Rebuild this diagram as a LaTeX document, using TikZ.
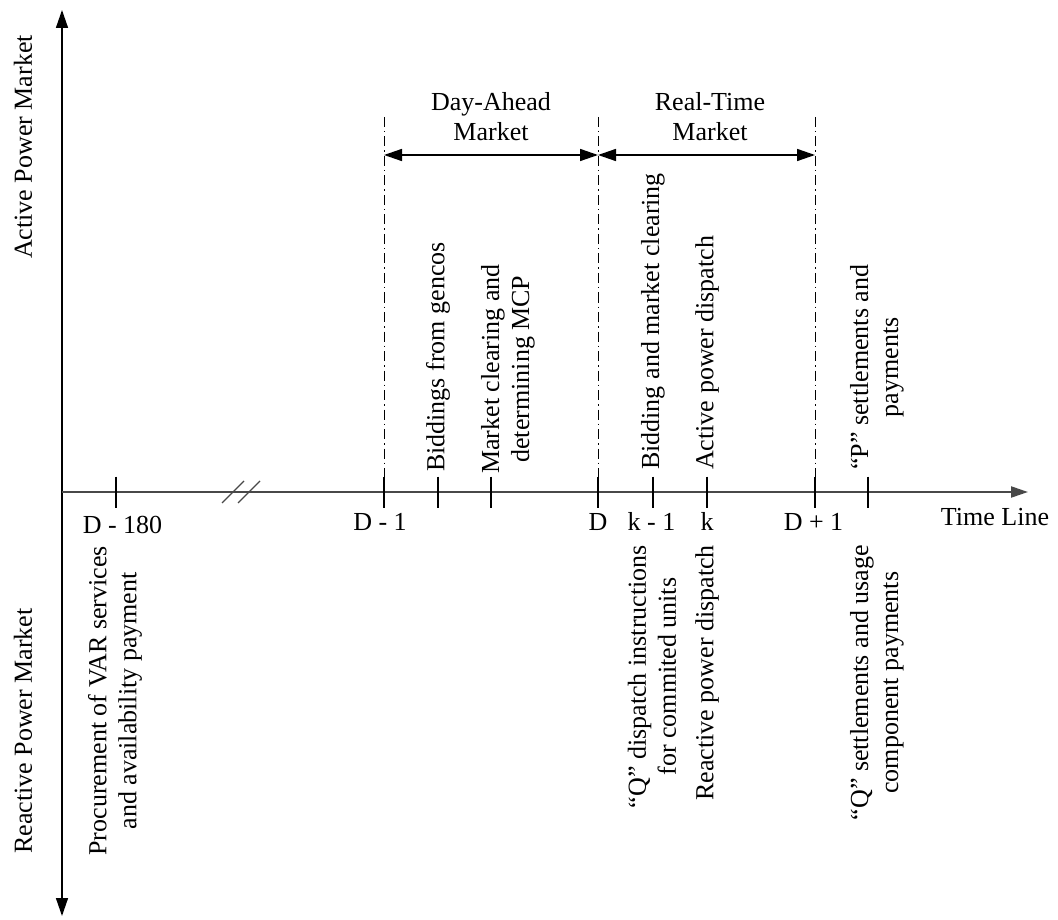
\documentclass[tikz,border=0pt]{standalone}
\usepackage{fontspec}
\setmainfont{Liberation Serif}
\definecolor{axisgray}{RGB}{72,72,72}
\definecolor{ink}{RGB}{0,0,0}
\usetikzlibrary{arrows.meta,positioning}
\tikzset{
  lbl/.style={font=\fontsize{26}{30}\selectfont,text=ink,inner sep=0pt},
  uptext/.style={lbl,rotate=90,anchor=west,align=center},
  downtext/.style={lbl,rotate=90,anchor=east,align=center},
  tickmark/.style={ink,line width=1.2pt},
  phase/.style={ink,line width=1pt,dash pattern=on 10pt off 4pt on 1.5pt off 4pt},
  bigtip/.tip={Triangle[length=18pt,width=12pt]}
}

\begin{document}
\begin{tikzpicture}[x=1pt,y=-1pt]
  \useasboundingbox (0,0) rectangle (1058,920);
  % market axis and time line
  \coordinate (vtop) at (62,10);
  \coordinate (vbot) at (62,916);
  \coordinate (hstart) at (62,492);
  \coordinate (hend) at (1028,492);
  \draw[ink,line width=1.5pt,bigtip-bigtip] (vbot) -- (vtop);
  \draw[axisgray,line width=2.2pt,-{Triangle[length=17pt,width=11pt]}] (hstart) -- (hend);
  \draw[axisgray,line width=1.3pt] (222,503) -- (244,481) (238,503) -- (260,481);
  % ticks
  \foreach \n/\x in {d180/116,dm1/384,bid/438,clr/491,d/598,km1/653,k/707,dp1/815,set/868}{
    \coordinate (\n) at (\x,492);
    \coordinate (\n-t) at (\x,117);
    \coordinate (\n-a) at (\x,155);
    \draw[tickmark] ([yshift=15.5pt]\n) -- ([yshift=-15.5pt]\n);
  }
  \foreach \n in {dm1,d,dp1}
    \draw[phase] (\n-t) -- ([yshift=15.5pt]\n);
  \draw[ink,line width=1.5pt,bigtip-bigtip] (dm1-a) -- (d-a);
  \draw[ink,line width=1.5pt,bigtip-bigtip] (d-a) -- (dp1-a);
  \node[lbl,align=center] (dam) at (491,117) {Day-Ahead\\Market};
  \node[lbl,align=center] (rtm) at (710,117) {Real-Time\\Market};
  % side labels
  \node[lbl,rotate=90] (apm) at (23,147) {Active Power Market};
  \node[lbl,rotate=90] (rpm) at (23,731) {Reactive Power Market};
  \node[lbl,anchor=base] (tl) at (995,525) {Time Line};
  % tick labels
  \node[lbl,anchor=base] (l-d180) at (122.5,533) {D - 180};
  \node[lbl,anchor=base] (l-dm1) at (380,530) {D - 1};
  \node[lbl,anchor=base] (l-d) at (598,530) {D};
  \node[lbl,anchor=base] (l-km1) at (651.5,530) {k - 1};
  \node[lbl,anchor=base] (l-k) at (707,530) {k};
  \node[lbl,anchor=base] (l-dp1) at (813.5,530) {D + 1};
  % active power events
  \node[uptext] (e-bid) at (438,472) {Biddings from gencos};
  \node[uptext] (e-clr) at (508,474) {Market clearing and\\determining MCP};
  \node[uptext] (e-km1) at (653,470) {Bidding and market clearing};
  \node[uptext] (e-k) at (707,470) {Active power dispatch};
  \node[uptext] (e-set) at (877,470) {“P” settlements and\\payments};
  % reactive power events
  \node[downtext] (r-d180) at (115,546) {Procurement of VAR services\\and availability payment};
  \node[downtext] (r-km1) at (652,545) {“Q” dispatch instructions\\for commited units};
  \node[downtext] (r-k) at (707,545) {Reactive power dispatch};
  \node[downtext] (r-set) at (877,545) {“Q” settlements and usage\\component payments};
\end{tikzpicture}
\end{document}
